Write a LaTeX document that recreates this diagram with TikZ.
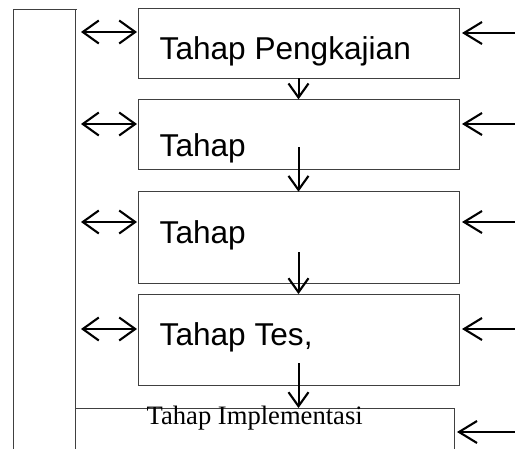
\documentclass[tikz,border=0pt]{standalone}
\usepackage{fontspec}
\setmainfont{Liberation Sans}
\newfontfamily\timesfont{Liberation Serif}
\usetikzlibrary{arrows.meta}
\begin{document}
\begin{tikzpicture}[x=1pt,y=-1pt,
  frame/.style={draw=black!75, line width=0.9pt},
  stagebox/.style={frame, rectangle, inner sep=0pt, outer sep=0pt, minimum width=321pt},
  lbl/.style={anchor=base west, inner sep=0pt, font=\fontsize{31.6}{32}\selectfont},
  barb/.tip={Straight Barb[length=16pt,width=23pt,line width=2.1pt]},
  downbarb/.tip={Straight Barb[length=14pt,width=20pt,line width=2.1pt]},
  arr/.style={line width=2pt, -downbarb},
  dbl/.style={line width=2pt, barb-barb},
  inarr/.style={line width=2pt, -{Straight Barb[length=18pt,width=22pt,line width=2.1pt]}}
]
\useasboundingbox (0,0) rectangle (515,448);
\clip (0,0) rectangle (515,448);

% side column
\coordinate (sTL) at (13,9);
\coordinate (sTR) at (77,9);
\coordinate (sBL) at (13,460);
\coordinate (sR) at (75,9);
\coordinate (sRB) at (75,460);
\draw[frame] (sBL) -- (sTL) -- (sTR);
\draw[frame] (sR) -- (sRB);

% stage boxes
\node[stagebox, minimum height=70pt] (b1) at (298.5,43.3) {};
\node[stagebox, minimum height=70pt] (b2) at (298.5,134.3) {};
\node[stagebox, minimum height=91.6pt] (b3) at (298.5,237.5) {};
\node[stagebox, minimum height=91.7pt] (b4) at (298.5,339.9) {};

\node[lbl] (t1) at (159.5,59.3) {Tahap Pengkajian};
\node[lbl] (t2) at (159.5,156.7) {Tahap};
\node[lbl] (t3) at (159.5,243.3) {Tahap};
\node[lbl] (t4) at (159.5,345) {Tahap Tes,};

% implementation box (partial)
\coordinate (iL) at (75,408);
\coordinate (iR) at (454,408);
\coordinate (iRB) at (454,460);
\draw[frame] (iL) -- (iR) -- (iRB);
\node[anchor=base west, inner sep=0pt, font=\timesfont\fontsize{26.6}{27}\selectfont] (t5) at (146.5,424) {Tahap Implementasi};

% down arrows
\coordinate (d2) at (298.5,147);
\coordinate (d3) at (298.5,252);
\coordinate (d4) at (298.5,363);
\coordinate (i5) at (298.5,408);
\draw[arr] (b1.south) -- (b2.north);
\draw[arr] (d2) -- (b3.north);
\draw[arr] (d3) -- (b4.north);
\draw[arr] (d4) -- (i5);

% double arrows
\coordinate (l1) at (81,32);
\coordinate (l2) at (81,124);
\coordinate (l3) at (81,222);
\coordinate (l4) at (81,329);
\draw[dbl, shorten >=1pt] (l1) -- (b1.west |- l1);
\draw[dbl, shorten >=1pt] (l2) -- (b2.west |- l2);
\draw[dbl, shorten >=1pt] (l3) -- (b3.west |- l3);
\draw[dbl, shorten >=1pt] (l4) -- (b4.west |- l4);

% incoming arrows from the right
\coordinate (r1) at (516,33);
\coordinate (r2) at (516,124);
\coordinate (r3) at (516,222);
\coordinate (r4) at (516,329);
\coordinate (r5) at (516,432);
\draw[inarr, shorten >=3pt] (r1) -- (b1.east |- r1);
\draw[inarr, shorten >=3pt] (r2) -- (b2.east |- r2);
\draw[inarr, shorten >=3pt] (r3) -- (b3.east |- r3);
\draw[inarr, shorten >=3pt] (r4) -- (b4.east |- r4);
\draw[inarr, shorten >=3pt] (r5) -- (iRB |- r5);
\end{tikzpicture}
\end{document}
